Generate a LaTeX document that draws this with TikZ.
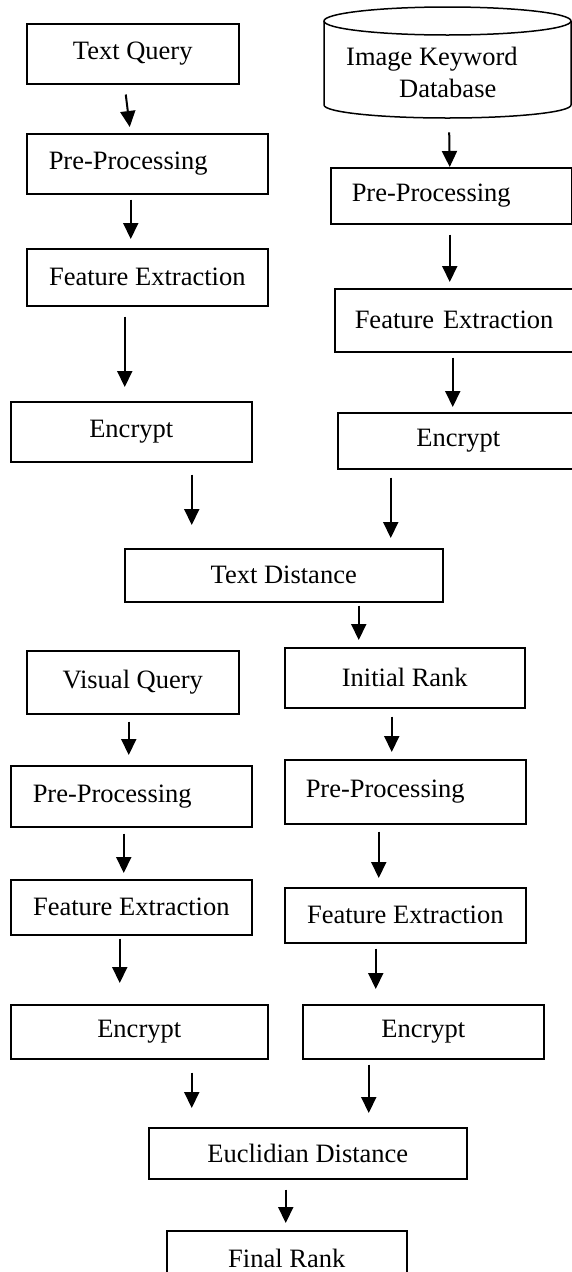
\documentclass[tikz,border=0pt]{standalone}
\usepackage{fontspec}
\setmainfont{Liberation Serif}
\usetikzlibrary{arrows.meta}
\begin{document}
\begin{tikzpicture}[x=1pt,y=-1pt,
  box/.style={draw, line width=1.5pt, inner sep=0pt, anchor=north west, font=\fontsize{26.5}{32}\selectfont},
  lbox/.style={box, align=left},
  txt/.style={inner sep=0pt, font=\fontsize{26.5}{32}\selectfont},
  arr/.style={line width=2pt, -{Triangle[width=15pt,length=16pt]}}]
\useasboundingbox (0,0) rectangle (572,1272);
\clip (0,0) rectangle (572,1272);

% left column (text query)
\node[box, minimum width=212pt, minimum height=60pt] (tq) at (26,23) {Text Query};
\node[lbox, minimum width=241pt, minimum height=60pt, text width=197pt, inner xsep=22pt] (pp1) at (26,133) {\mbox{Pre-Processing}};
\node[box, minimum width=241pt, minimum height=57pt] (fe1) at (26,248) {Feature Extraction};
\node[box, minimum width=241pt, minimum height=60pt] (en1) at (10,401) {Encrypt};

% database cylinder
\node[inner sep=0pt, minimum width=247pt, minimum height=111pt, anchor=north west] (db) at (324,7) {};
\draw[line width=1.5pt] (447.5,21) ellipse [x radius=123.5, y radius=14];
\draw[line width=1.5pt] (324,21) -- (324,105) arc[start angle=180, end angle=0, x radius=123.5, y radius=13] -- (571,21);
\node[txt, anchor=base west] (dbt1) at (346,65) {Image Keyword};
\node[txt, anchor=base west] (dbt2) at (399,97) {Database};

% right column (database)
\node[lbox, minimum width=241pt, minimum height=56pt, text width=199pt, inner xsep=21pt] (pp2) at (330,167) {\mbox{Pre-Processing}};
\node[lbox, minimum width=241pt, minimum height=63pt, text width=201pt, inner xsep=20pt] (fe2) at (334,288) {\mbox{Feature Extraction}};
\node[box, minimum width=241pt, minimum height=56pt] (en2) at (337,412) {Encrypt};

\node[box, minimum width=318pt, minimum height=53pt] (td) at (124,548) {Text Distance};

% lower left (visual query)
\node[box, minimum width=212pt, minimum height=63pt] (vq) at (26,650) {Visual Query};
\node[lbox, minimum width=241pt, minimum height=61pt, text width=197pt, inner xsep=22pt] (pp3) at (10,765) {\mbox{Pre-Processing}};
\node[box, minimum width=241pt, minimum height=55pt] (fe3) at (10,879) {Feature Extraction};
\node[box, minimum width=257pt, minimum height=54pt] (en3) at (10,1004) {Encrypt};

% lower right (initial rank)
\node[box, minimum width=240pt, minimum height=60pt] (ir) at (284,647) {Initial Rank};
\node[lbox, minimum width=241pt, minimum height=64pt, text width=199pt, inner xsep=21pt] (pp4) at (284,759) {\mbox{Pre-Processing}};
\node[box, minimum width=241pt, minimum height=55pt] (fe4) at (284,887) {Feature Extraction};
\node[box, minimum width=241pt, minimum height=54pt] (en4) at (302,1004) {Encrypt};

\node[box, minimum width=318pt, minimum height=51pt] (ed) at (148,1127) {Euclidian Distance};
\node[box, minimum width=240pt, minimum height=55pt] (fr) at (166,1230) {Final Rank};

% arrows
\draw[arr] ([xshift=-7pt,yshift=-10pt]tq.south) -- ([xshift=-17.5pt,yshift=6pt]pp1.north);
\draw[arr] ([xshift=-16.5pt,yshift=-5pt]pp1.south) -- ([xshift=-16.5pt,yshift=9pt]fe1.north);
\draw[arr] ([xshift=-22.5pt,yshift=-10pt]fe1.south) -- ([xshift=-6.5pt,yshift=14pt]en1.north);
\draw[arr] ([xshift=60.5pt,yshift=-12pt]en1.south) -- ([xshift=-92pt,yshift=23pt]td.north);

\draw[arr] ([xshift=1.5pt,yshift=-14pt]db.south) -- ([xshift=-1.5pt,yshift=0pt]pp2.north);
\draw[arr] ([xshift=-1.5pt,yshift=-10pt]pp2.south) -- ([xshift=-5.5pt,yshift=6pt]fe2.north);
\draw[arr] ([xshift=-2.5pt,yshift=-5pt]fe2.south) -- ([xshift=-5.5pt,yshift=5pt]en2.north);
\draw[arr] ([xshift=-67.5pt,yshift=-8pt]en2.south) -- ([xshift=107pt,yshift=10pt]td.north);

\draw[arr] ([xshift=75pt,yshift=-3pt]td.south) -- ([xshift=-46pt,yshift=7pt]ir.north);

\draw[arr] ([xshift=-4pt,yshift=-7pt]vq.south) -- ([xshift=-2.5pt,yshift=10pt]pp3.north);
\draw[arr] ([xshift=-7.5pt,yshift=-6pt]pp3.south) -- ([xshift=-7.5pt,yshift=6pt]fe3.north);
\draw[arr] ([xshift=-11.5pt,yshift=-3pt]fe3.south) -- ([xshift=-19.5pt,yshift=21pt]en3.north);
\draw[arr] ([xshift=52.5pt,yshift=-13pt]en3.south) -- ([xshift=-116pt,yshift=19pt]ed.north);

\draw[arr] ([xshift=-13pt,yshift=-8pt]ir.south) -- ([xshift=-13.5pt,yshift=7pt]pp4.north);
\draw[arr] ([xshift=-26.5pt,yshift=-7pt]pp4.south) -- ([xshift=-26.5pt,yshift=9pt]fe4.north);
\draw[arr] ([xshift=-29.5pt,yshift=-5pt]fe4.south) -- ([xshift=-47.5pt,yshift=15pt]en4.north);
\draw[arr] ([xshift=-54.5pt,yshift=-5pt]en4.south) -- ([xshift=61pt,yshift=14pt]ed.north);

\draw[arr] ([xshift=-22pt,yshift=-10pt]ed.south) -- ([xshift=-1pt,yshift=7pt]fr.north);
\end{tikzpicture}
\end{document}
